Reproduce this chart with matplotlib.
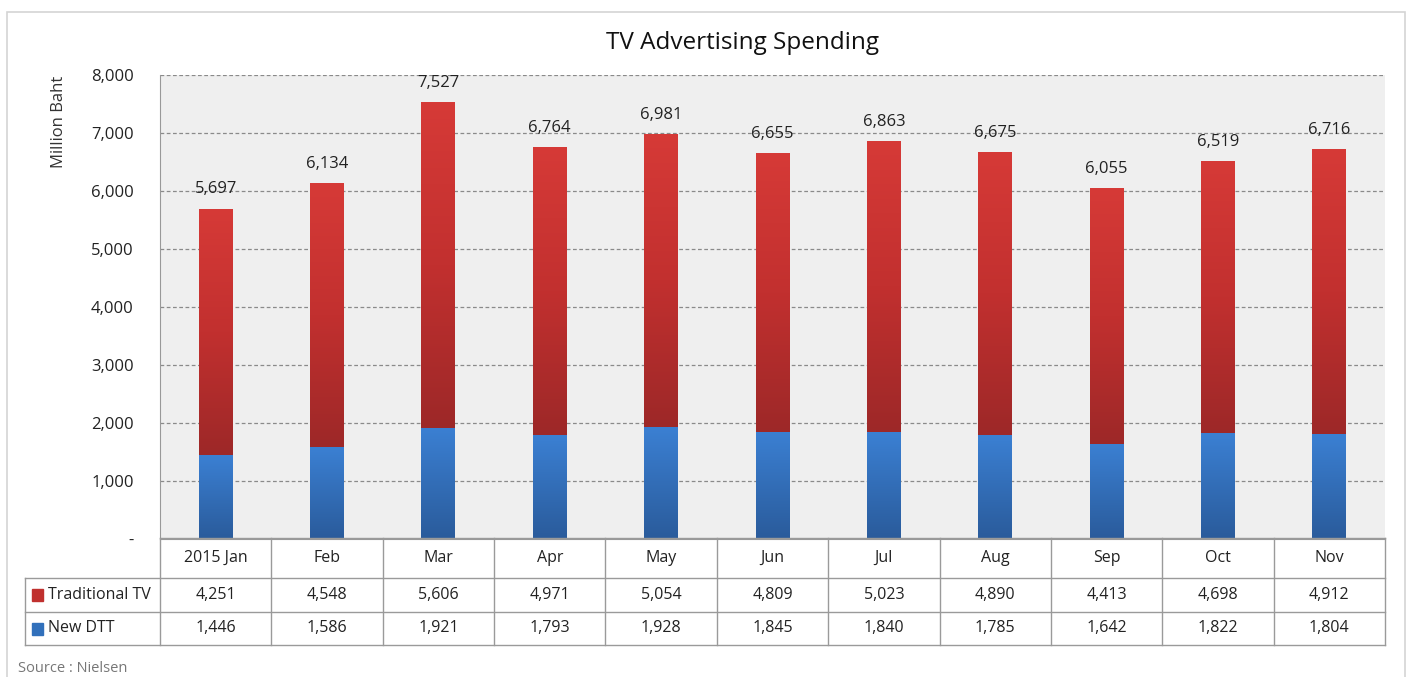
import matplotlib.pyplot as plt
import matplotlib.patches as mpatches
from matplotlib.colors import LinearSegmentedColormap
import numpy as np

plt.rcParams['font.family'] = ['Open Sans', 'DejaVu Sans']

months = ['2015 Jan', 'Feb', 'Mar', 'Apr', 'May', 'Jun', 'Jul', 'Aug', 'Sep', 'Oct', 'Nov']
traditional = [4251, 4548, 5606, 4971, 5054, 4809, 5023, 4890, 4413, 4698, 4912]
new_dtt = [1446, 1586, 1921, 1793, 1928, 1845, 1840, 1785, 1642, 1822, 1804]
totals = [5697, 6134, 7527, 6764, 6981, 6655, 6863, 6675, 6055, 6519, 6716]
series_names = ['Traditional TV', 'New DTT']
yticks = [0, 1000, 2000, 3000, 4000, 5000, 6000, 7000, 8000]

W, H = 1408, 677
fig = plt.figure(figsize=(W / 100, H / 100), dpi=100)

def fx(px):
    return px / W

def fy(py):
    return 1 - py / H

# outer light border
fig.patches.append(mpatches.Rectangle((fx(7), fy(690)), fx(1398), fy(12) - fy(690),
                                      transform=fig.transFigure, fill=False,
                                      edgecolor='#d4d4d4', lw=1.2))

left, right, top, bottom = 160, 1385, 75, 539
ax = fig.add_axes([fx(left), fy(bottom), fx(right - left), fy(top) - fy(bottom)])
ax.set_facecolor('#efefef')
x = np.arange(len(months))
width = 0.305

red_cmap = LinearSegmentedColormap.from_list('r', ['#9d2828', '#c2302f', '#d63a37'])
blue_cmap = LinearSegmentedColormap.from_list('b', ['#2a5b9b', '#3b80d3'])
grad = np.linspace(0, 1, 256).reshape(-1, 1)

b1 = ax.bar(x, new_dtt, width, color='none', edgecolor='none', zorder=3)
b2 = ax.bar(x, traditional, width, bottom=new_dtt, color='none', edgecolor='none', zorder=3)
for bars, cmap in ((b1, blue_cmap), (b2, red_cmap)):
    for b in bars:
        x0, y0 = b.get_x(), b.get_y()
        im = ax.imshow(grad, extent=(x0, x0 + b.get_width(), y0, y0 + b.get_height()),
                       origin='lower', cmap=cmap, aspect='auto', zorder=3)
        im.set_clip_path(b)

for xi, t in zip(x, totals):
    ax.annotate(f'{t:,}', (xi, t), xytext=(0, 8), textcoords='offset points',
                ha='center', va='bottom', fontsize=12, color='#222222', zorder=5)

ax.set_xlim(-0.5, len(months) - 0.5)
ax.set_ylim(0, 8000)
ax.set_yticks(yticks)
ax.set_yticklabels(['-' if v == 0 else f'{v:,}' for v in yticks], fontsize=12, color='#222222')
ax.set_xticks([])
ax.tick_params(axis='y', length=0, pad=19)
ax.yaxis.grid(True, linestyle=(0, (3, 2)), color='#8a8a8a', lw=0.9, zorder=1)
ax.set_axisbelow(True)
for s in ['top', 'right']:
    ax.spines[s].set_visible(False)
ax.spines['left'].set_color('#999999')
ax.spines['bottom'].set_color('#999999')
ax.set_ylabel('Million Baht', fontsize=12, color='#333333')
ax.yaxis.set_label_coords(-0.076, 0.90)

# data table below the plot
tax = fig.add_axes([fx(left), fy(645), fx(right - left), fy(538) - fy(645)])
tax.set_xlim(-0.5, len(months) - 0.5)
tax.set_ylim(107, 0)
tax.axis('off')
colw = (right - left) / len(months)
xleft = -0.5 - (left - 25) / colw
lc = '#9a9a9a'
kw = dict(color=lc, lw=1, clip_on=False)
# header row verticals
for i in range(len(months) + 1):
    tax.plot([i - 0.5, i - 0.5], [0, 107], **kw)
# horizontal rows
tax.plot([-0.5, len(months) - 0.5], [0, 0], **kw)
for yy in (40, 73.5, 107):
    tax.plot([xleft, len(months) - 0.5], [yy, yy], **kw)
tax.plot([xleft, xleft], [40, 107], **kw)

for i, m in enumerate(months):
    tax.text(i, 20, m, ha='center', va='center', fontsize=11.5, color='#222222')
    tax.text(i, 57, f'{traditional[i]:,}', ha='center', va='center', fontsize=11.5, color='#222222')
    tax.text(i, 90.5, f'{new_dtt[i]:,}', ha='center', va='center', fontsize=11.5, color='#222222')

sq = 0.1
for yy, name, col in ((57, series_names[0], '#c0302e'), (90.5, series_names[1], '#3170bb')):
    tax.add_patch(mpatches.Rectangle((xleft + 0.06, yy - 6), sq, 12, color=col, clip_on=False))
    tax.text(xleft + 0.21, yy, name, ha='left', va='center', fontsize=11.5, color='#222222')

fig.text(fx(742), fy(43), 'TV Advertising Spending', ha='center', va='center',
         fontsize=17.5, color='#111111')
fig.text(fx(18), fy(668), 'Source : Nielsen', ha='left', va='center', fontsize=10.5, color='#777777')

fig.savefig('out.png', dpi=100)
